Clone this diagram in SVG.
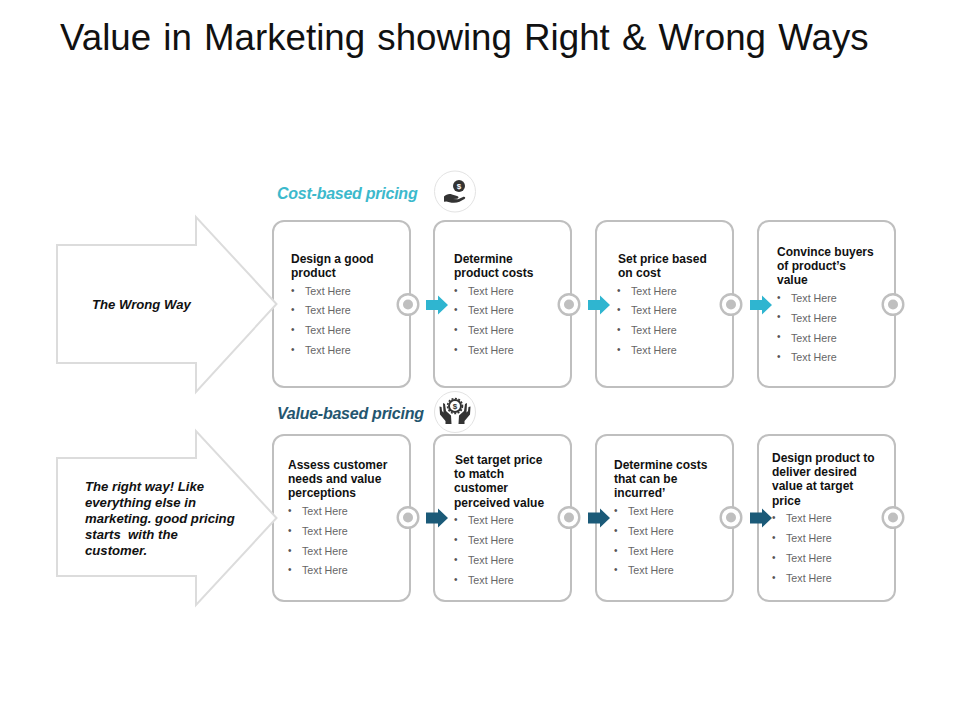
<svg xmlns="http://www.w3.org/2000/svg" width="960" height="720" viewBox="0 0 960 720">
<style>
text{font-family:"Liberation Sans",Arial,sans-serif}
.title{font-size:36.7px;fill:#111;word-spacing:2px}
.head{font-size:12px;font-weight:700;fill:#111}
.item{font-size:10.7px;fill:#666}
.dot{font-size:10px;fill:#555}
.card{fill:#fff;stroke:#bfbfbf;stroke-width:2}
.big{fill:#fff;stroke:#dcdcdc;stroke-width:2}
.ring{fill:#fff;stroke:#bfbfbf;stroke-width:2.4}
.pip{fill:#bfbfbf}
.lab{font-size:13.15px;font-weight:700;font-style:italic;fill:#111}
.sec{font-size:16px;font-weight:700;font-style:italic;letter-spacing:-.25px}
.ic{fill:#fff;stroke:#e3e3e3;stroke-width:1}
.g{fill:#333}
</style>
<rect width="960" height="720" fill="#fff"/>
<text class="title" x="60" y="50">Value in Marketing showing Right &amp; Wrong Ways</text>
<g id="label-cost"><text class="sec" x="277" y="199" fill="#3cb9cc">Cost-based pricing</text><circle class="ic" cx="455" cy="191.500" r="20.500"/><circle class="g" cx="459" cy="186" r="6"/><text x="459" y="189" font-size="8" font-weight="700" fill="#fff" text-anchor="middle">$</text><path class="g" d="M444 196.500c2-2 5-3 8-2l5 1.500c2 .5 2 2.500 0 2.800l-4 .2 5 .2 5-2.200c2-.7 3 1 1.500 2l-5 2.800c-3 1.200-7 1.200-10 .4l-3-.8-2.500.4z"/></g>
<g id="label-value"><text class="sec" x="277" y="419" fill="#24566f">Value-based pricing</text><circle class="ic" cx="455" cy="412" r="20.500"/><circle cx="455" cy="406" r="6" fill="#fff" stroke="#333" stroke-width="2"/><circle cx="455" cy="406" r="7.500" fill="none" stroke="#333" stroke-width="1.500" stroke-dasharray="2 1.500"/><text x="455" y="409" font-size="8" font-weight="700" fill="#333" text-anchor="middle">$</text><path class="g" d="M443 403l2 1 1 7 5 4.500.5 8.500h-6v-3l-5.500-6.500-.5-8 2 .5.5 4 1.500 1.500zM467 403l-2 1-1 7-5 4.500-.5 8.500h6v-3l5.500-6.500.5-8-2 .5-.5 4-1.500 1.500z"/></g>
<g id="c1"><rect class="card" x="273" y="221" width="137" height="166" rx="11"/><circle class="ring" cx="408" cy="304.500" r="10.300"/><circle class="pip" cx="408" cy="304.500" r="5"/>
<text class="head"><tspan x="291" y="263">Design a good</tspan><tspan x="291" y="277">product</tspan></text>
<text class="dot"><tspan x="291" y="294">•</tspan><tspan x="291" y="313">•</tspan><tspan x="291" y="333">•</tspan><tspan x="291" y="353">•</tspan></text><text class="item"><tspan x="305" y="295">Text Here</tspan><tspan x="305" y="314">Text Here</tspan><tspan x="305" y="334">Text Here</tspan><tspan x="305" y="354">Text Here</tspan></text></g>
<g id="c2"><rect class="card" x="434" y="221" width="137" height="166" rx="11"/><circle class="ring" cx="569" cy="304.500" r="10.300"/><circle class="pip" cx="569" cy="304.500" r="5"/>
<text class="head"><tspan x="454" y="263">Determine</tspan><tspan x="454" y="277">product costs</tspan></text>
<text class="dot"><tspan x="454" y="294">•</tspan><tspan x="454" y="313">•</tspan><tspan x="454" y="333">•</tspan><tspan x="454" y="353">•</tspan></text><text class="item"><tspan x="468" y="295">Text Here</tspan><tspan x="468" y="314">Text Here</tspan><tspan x="468" y="334">Text Here</tspan><tspan x="468" y="354">Text Here</tspan></text></g>
<g id="c3"><rect class="card" x="596" y="221" width="137" height="166" rx="11"/><circle class="ring" cx="731" cy="304.500" r="10.300"/><circle class="pip" cx="731" cy="304.500" r="5"/>
<text class="head"><tspan x="618" y="263">Set price based</tspan><tspan x="618" y="277">on cost</tspan></text>
<text class="dot"><tspan x="617" y="294">•</tspan><tspan x="617" y="313">•</tspan><tspan x="617" y="333">•</tspan><tspan x="617" y="353">•</tspan></text><text class="item"><tspan x="631" y="295">Text Here</tspan><tspan x="631" y="314">Text Here</tspan><tspan x="631" y="334">Text Here</tspan><tspan x="631" y="354">Text Here</tspan></text></g>
<g id="c4"><rect class="card" x="758" y="221" width="137" height="166" rx="11"/><circle class="ring" cx="893" cy="304.500" r="10.300"/><circle class="pip" cx="893" cy="304.500" r="5"/>
<text class="head"><tspan x="777" y="256">Convince buyers</tspan><tspan x="777" y="270">of product’s</tspan><tspan x="777" y="284">value</tspan></text>
<text class="dot"><tspan x="777" y="301">•</tspan><tspan x="777" y="320">•</tspan><tspan x="777" y="340">•</tspan><tspan x="777" y="360">•</tspan></text><text class="item"><tspan x="791" y="302">Text Here</tspan><tspan x="791" y="322">Text Here</tspan><tspan x="791" y="342">Text Here</tspan><tspan x="791" y="361">Text Here</tspan></text></g>
<g id="c5"><rect class="card" x="273" y="435" width="137" height="166" rx="11"/><circle class="ring" cx="408" cy="517.500" r="10.300"/><circle class="pip" cx="408" cy="517.500" r="5"/>
<text class="head"><tspan x="288" y="469">Assess customer</tspan><tspan x="288" y="483">needs and value</tspan><tspan x="288" y="497">perceptions</tspan></text>
<text class="dot"><tspan x="288" y="514">•</tspan><tspan x="288" y="534">•</tspan><tspan x="288" y="554">•</tspan><tspan x="288" y="573">•</tspan></text><text class="item"><tspan x="302" y="515">Text Here</tspan><tspan x="302" y="535">Text Here</tspan><tspan x="302" y="555">Text Here</tspan><tspan x="302" y="574">Text Here</tspan></text></g>
<g id="c6"><rect class="card" x="434" y="435" width="137" height="166" rx="11"/><circle class="ring" cx="569" cy="517.500" r="10.300"/><circle class="pip" cx="569" cy="517.500" r="5"/>
<text class="head"><tspan x="455" y="464">Set target price</tspan><tspan x="454" y="478">to match</tspan><tspan x="454" y="492">customer</tspan><tspan x="454" y="507">perceived value</tspan></text>
<text class="dot"><tspan x="454" y="523">•</tspan><tspan x="454" y="543">•</tspan><tspan x="454" y="563">•</tspan><tspan x="454" y="583">•</tspan></text><text class="item"><tspan x="468" y="524">Text Here</tspan><tspan x="468" y="544">Text Here</tspan><tspan x="468" y="564">Text Here</tspan><tspan x="468" y="584">Text Here</tspan></text></g>
<g id="c7"><rect class="card" x="596" y="435" width="137" height="166" rx="11"/><circle class="ring" cx="731" cy="517.500" r="10.300"/><circle class="pip" cx="731" cy="517.500" r="5"/>
<text class="head"><tspan x="614" y="469">Determine costs</tspan><tspan x="614" y="483">that can be</tspan><tspan x="614" y="497">incurred’</tspan></text>
<text class="dot"><tspan x="614" y="514">•</tspan><tspan x="614" y="534">•</tspan><tspan x="614" y="554">•</tspan><tspan x="614" y="573">•</tspan></text><text class="item"><tspan x="628" y="515">Text Here</tspan><tspan x="628" y="535">Text Here</tspan><tspan x="628" y="555">Text Here</tspan><tspan x="628" y="574">Text Here</tspan></text></g>
<g id="c8"><rect class="card" x="758" y="435" width="137" height="166" rx="11"/><circle class="ring" cx="893" cy="517.500" r="10.300"/><circle class="pip" cx="893" cy="517.500" r="5"/>
<text class="head"><tspan x="772" y="462">Design product to</tspan><tspan x="772" y="476">deliver desired</tspan><tspan x="772" y="490">value at target</tspan><tspan x="772" y="505">price</tspan></text>
<text class="dot"><tspan x="772" y="521">•</tspan><tspan x="772" y="541">•</tspan><tspan x="772" y="561">•</tspan><tspan x="772" y="581">•</tspan></text><text class="item"><tspan x="786" y="522">Text Here</tspan><tspan x="786" y="542">Text Here</tspan><tspan x="786" y="562">Text Here</tspan><tspan x="786" y="582">Text Here</tspan></text></g>
<g id="arrow-wrong"><path class="big" d="M57 245H196V217L276.500 304L196 392V363H57Z"/><text class="lab" x="92" y="309">The Wrong Way</text></g>
<g id="arrow-right"><path class="big" d="M57 458H196V431L276.500 518L196 605V576H57Z"/>
<text class="lab"><tspan x="85" y="491">The right way! Like</tspan><tspan x="85" y="507">everything else in</tspan><tspan x="85" y="523">marketing. good pricing</tspan><tspan x="85" y="539" xml:space="preserve">starts  with the</tspan><tspan x="85" y="555">customer.</tspan></text></g>
<g id="connectors">
<path fill="#2fb5d0" d="M426 300h12v-4.500l10 9.500-10 9.500v-4.500h-12z"/><path fill="#2fb5d0" d="M588 300h12v-4.500l10 9.500-10 9.500v-4.500h-12z"/><path fill="#2fb5d0" d="M750 300h12v-4.500l10 9.500-10 9.500v-4.500h-12z"/>
<path fill="#1b5a78" d="M426 512.500h12v-4l10 9.500-10 9.500v-4h-12z"/><path fill="#1b5a78" d="M588 512.500h12v-4l10 9.500-10 9.500v-4h-12z"/><path fill="#1b5a78" d="M750 512.500h12v-4l10 9.500-10 9.500v-4h-12z"/>
</g>
</svg>
